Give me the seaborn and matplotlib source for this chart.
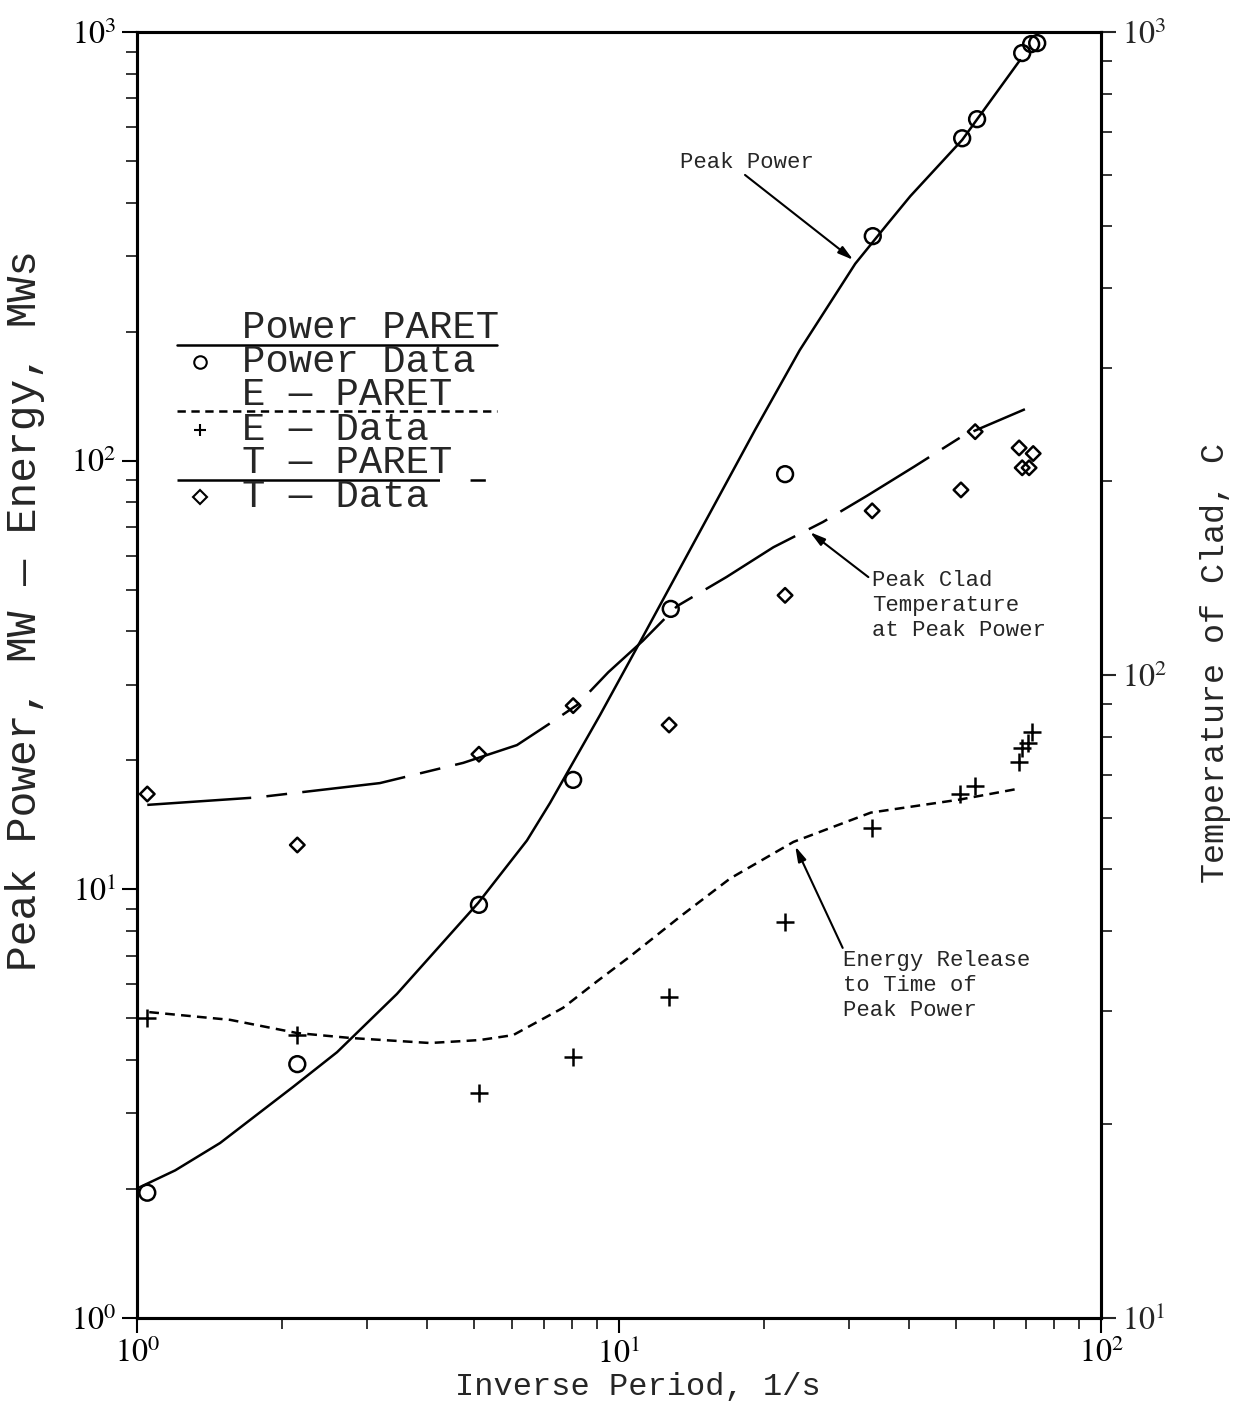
import numpy as np
import pandas as pd
import matplotlib
matplotlib.use("Agg")
from matplotlib import pyplot as plt
from matplotlib.ticker import FuncFormatter, NullFormatter
import seaborn as sns

# measured data -------------------------------------------------------------
# peak power (MW), left axis
power_x = [1.05, 2.15, 5.12, 8.03, 12.8, 22.1, 33.6, 51.5, 55.3, 68.6, 71.6, 73.7]
power_y = [1.96, 3.91, 9.2, 18.0, 45.1, 93.0, 334, 565, 626, 893, 937, 942]
paret_power_x = [1.014, 1.2, 1.487, 2.107, 2.60, 3.46, 5.10, 6.44, 7.19, 9.13, 11.2,
                 14.7, 19.15, 23.7, 30.9, 36.0, 40.2, 51.5, 67.9]
paret_power_y = [2.02, 2.21, 2.56, 3.46, 4.17, 5.7, 9.29, 13.0, 15.9, 25.5, 38.8,
                 68.2, 118, 181, 288, 356, 414, 560, 860]

# energy release (MWs), left axis
energy_x = [1.05, 2.15, 5.12, 8.03, 12.7, 22.1, 33.4, 51.0, 54.7, 67.4, 68.6, 70.4, 72.0]
energy_y = [5.0, 4.57, 3.35, 4.06, 5.6, 8.4, 13.9, 16.7, 17.4, 19.8, 21.4, 21.9, 23.3]
paret_energy_x = [1.06, 1.56, 2.15, 2.77, 4.05, 5.14, 6.03, 7.65, 9.0, 10.5,
                  13.5, 17.0, 23.0, 33.3, 51.0, 68.0]
paret_energy_y = [5.17, 4.96, 4.62, 4.50, 4.38, 4.45, 4.57, 5.29, 6.1, 6.95,
                  8.7, 10.6, 12.9, 15.1, 16.2, 17.2]

# clad temperature (C), right axis
temp_x = [1.05, 2.15, 5.12, 8.03, 12.7, 22.1, 33.5, 51.2, 54.8, 67.6, 68.6, 70.9, 72.3]
temp_y = [65.3, 54.4, 75.3, 89.6, 83.6, 133, 180, 194, 239, 225.5, 210, 210, 221]
paret_temp_x = [1.05, 1.77, 3.19, 4.75, 6.14, 7.19, 8.18, 9.5, 11.2, 13.2,
                16.7, 20.9, 26.5, 32.7, 41.0, 51.0, 54.8, 69.5]
paret_temp_y = [62.8, 64.5, 67.9, 73.0, 77.8, 84.1, 89.8, 101, 113, 128,
                142, 158, 173, 190, 211, 234, 240, 259]

legend_rows = ["Power PARET", "Power Data", "E \u2014 PARET", "E \u2014 Data",
               "T \u2014 PARET", "T \u2014 Data"]

sns.set_style("ticks")
plt.rcParams["font.family"] = ["Liberation Mono", "DejaVu Sans"]
plt.rcParams["mathtext.fontset"] = "stix"
plt.rcParams["lines.scale_dashes"] = False

fig = plt.figure(figsize=(12.46, 14.09), dpi=100)
ax = fig.add_axes([0.110, 0.0646, 0.7737, 0.9127])
ax.set_xscale("log")
ax.set_yscale("log")
ax2 = ax.twinx()
ax2.set_yscale("log")

lw = 1.8
long_dash = (0, (75, 11, 15, 11))
short_dash = (0, (7, 4.5))

# curves
sns.lineplot(x=paret_power_x, y=paret_power_y, ax=ax, color="black", lw=lw,
             sort=False, estimator=None)
sns.lineplot(x=paret_energy_x, y=paret_energy_y, ax=ax, color="black", lw=lw,
             sort=False, estimator=None, linestyle=short_dash)
sns.lineplot(x=paret_temp_x, y=paret_temp_y, ax=ax2, color="black", lw=lw,
             sort=False, estimator=None, linestyle=long_dash)

# data points
sns.scatterplot(x=power_x, y=power_y, ax=ax, marker="o", s=130,
                facecolor="none", edgecolor="black", linewidth=1.8, zorder=5)
sns.scatterplot(x=energy_x, y=energy_y, ax=ax, marker="+", s=150,
                color="black", linewidth=1.8, zorder=5)
sns.scatterplot(x=temp_x, y=temp_y, ax=ax2, marker="D", s=55,
                facecolor="none", edgecolor="black", linewidth=1.8, zorder=5)

ax.set_xlim(1, 100)
ax.set_ylim(1, 1000)
ax2.set_ylim(10, 1000)

fmt = FuncFormatter(lambda v, p: r"$10^{%d}$" % round(np.log10(v)))
for a in (ax, ax2):
    a.xaxis.set_major_formatter(fmt)
    a.yaxis.set_major_formatter(fmt)
    a.xaxis.set_minor_formatter(NullFormatter())
    a.yaxis.set_minor_formatter(NullFormatter())
    for sp in a.spines.values():
        sp.set_linewidth(2.2)
        sp.set_color("black")
        sp.set_visible(True)

ax.tick_params(which="major", direction="out", length=11, width=1.5,
               labelsize=23, pad=4, top=False, right=False, colors="black")
ax.tick_params(which="minor", direction="out", length=8, width=1.3,
               top=False, right=False)
ax2.tick_params(which="major", direction="out", length=11, width=1.5,
                labelsize=23, pad=4, left=False, right=True)
ax2.tick_params(which="minor", direction="out", length=8, width=1.3,
                left=False, right=True)

ax.set_xlabel("Inverse Period, 1/s", fontsize=23)
ax.xaxis.set_label_coords(0.519, -0.042)
ax.set_ylabel("Peak Power, MW \u2014 Energy, MWs", fontsize=31)
ax.yaxis.set_label_coords(-0.095, 0.55)
ax2.set_ylabel("Temperature of Clad, C", fontsize=24)
ax2.yaxis.set_label_coords(1.103, 0.509)

# hand made legend, as in the original figure
tx = 0.109
ax.text(tx, 0.770, legend_rows[0], transform=ax.transAxes, fontsize=28, va="center")
ax.plot([0.0415, 0.373], [0.7566, 0.7566], transform=ax.transAxes, color="black", lw=lw)
ax.text(tx, 0.7434, legend_rows[1], transform=ax.transAxes, fontsize=28, va="center")
ax.plot([0.065], [0.7434], transform=ax.transAxes, marker="o", ms=9, mfc="none",
        mec="black", mew=1.5)
ax.text(tx, 0.7177, legend_rows[2], transform=ax.transAxes, fontsize=28, va="center")
ax.plot([0.0415, 0.373], [0.7053, 0.7053], transform=ax.transAxes, color="black",
        lw=lw, linestyle=(0, (6, 4)))
ax.text(tx, 0.6905, legend_rows[3], transform=ax.transAxes, fontsize=28, va="center")
ax.plot([0.065], [0.6905], transform=ax.transAxes, marker="+", ms=9, color="black", mew=1.5)
ax.text(tx, 0.6649, legend_rows[4], transform=ax.transAxes, fontsize=28, va="center")
ax.plot([0.0415, 0.362], [0.6516, 0.6516], transform=ax.transAxes, color="black",
        lw=lw, linestyle=(0, (189, 22, 11, 200)))
ax.text(tx, 0.6384, legend_rows[5], transform=ax.transAxes, fontsize=28, va="center")
ax.plot([0.065], [0.6384], transform=ax.transAxes, marker="D", ms=7, mfc="none",
        mec="black", mew=1.5)

# annotations
arrow = dict(arrowstyle="-|>,head_length=0.9,head_width=0.25", color="black",
             lw=1.5, shrinkA=0, shrinkB=0)
ax.text(13.4, 497, "Peak Power", fontsize=16, va="center")
ax.annotate("", xy=(30.6, 294), xytext=(18.25, 464), arrowprops=arrow)
ax.text(33.5, 46.0, "Peak Clad\nTemperature\nat Peak Power", fontsize=16,
        va="center", linespacing=1.25)
ax.annotate("", xy=(24.9, 68.1), xytext=(32.9, 53.5), arrowprops=arrow)
ax.text(29.2, 5.95, "Energy Release\nto Time of\nPeak Power", fontsize=16,
        va="center", linespacing=1.25)
ax.annotate("", xy=(23.2, 12.6), xytext=(29.1, 7.3), arrowprops=arrow)

ax.set_xlim(1, 100)
ax.set_ylim(1, 1000)
ax2.set_ylim(10, 1000)

fig.savefig("out.png", dpi=100)
